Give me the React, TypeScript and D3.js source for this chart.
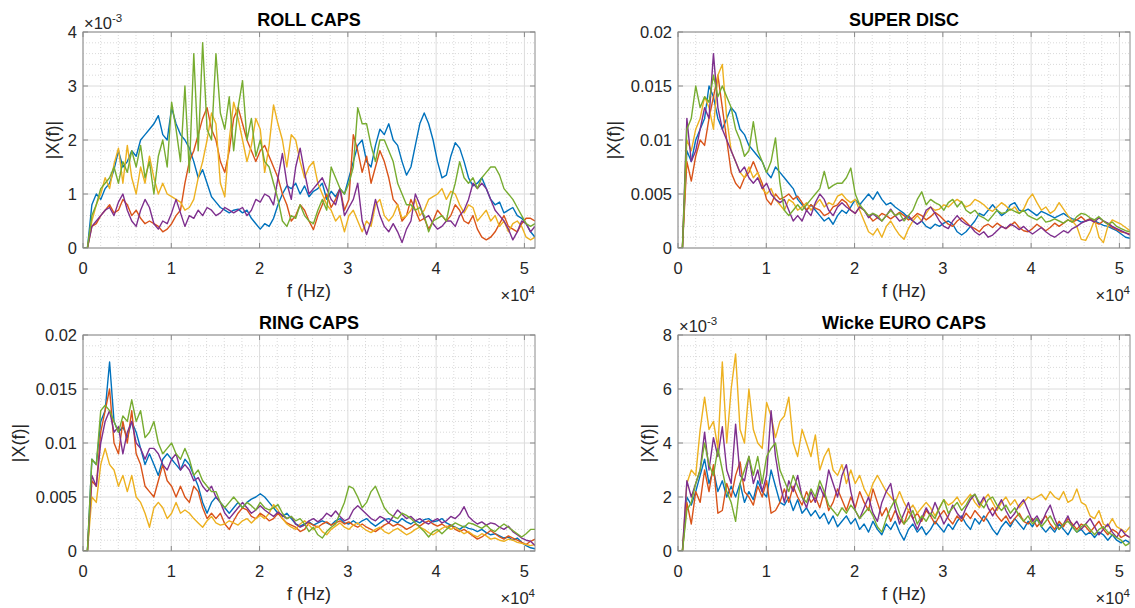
import React from 'react';
import * as d3 from 'd3';

// ---------- data (|X(f)| values, in units of the panel's display scale) ----------
const F_MAX = 51200;
const X_TICKS = [0, 10000, 20000, 30000, 40000, 50000];
const X_TICK_LABELS = ['0', '1', '2', '3', '4', '5'];
const SERIES_COLORS = ['#0072BD', '#D95319', '#EDB120', '#7E2F8E', '#77AC30'];
const PANEL_TITLES = ['ROLL CAPS', 'SUPER DISC', 'RING CAPS', 'Wicke EURO CAPS'];

// ROLL CAPS (x1e-3)
const ROLL_BLUE = [0, 0,
  0.8, 1.0, 0.9, 1.1, 1.2, 1.45, 1.8, 1.5, 1.6, 1.8,
  1.7, 2.0, 2.1, 2.2, 2.3, 2.45, 2.1, 2.0, 2.6, 2.3,
  2.1, 2.0, 1.85, 1.6, 1.3, 1.45, 1.2, 0.95, 0.85, 0.75,
  0.7, 0.65, 0.7, 0.72, 0.65, 0.7, 0.55, 0.45, 0.35, 0.45,
  0.4, 0.55, 0.8, 1.0, 1.15, 1.1, 1.2, 1.0, 1.15, 0.95,
  1.05, 1.1, 1.2, 0.9, 1.05, 0.95, 1.1, 1.0, 1.3, 1.6,
  1.9, 2.0, 1.6, 1.5, 1.9, 2.2, 2.1, 2.3, 2.0, 1.9,
  1.6, 1.35, 1.5, 1.9, 2.3, 2.5, 2.3, 2.0, 1.6, 1.3,
  1.35, 1.7, 1.95, 1.85, 1.6, 1.3, 1.15, 1.2, 1.3, 1.1,
  0.9, 0.8, 0.85, 0.65, 0.7, 0.75, 0.6, 0.55, 0.45, 0.3,
  0.2];
const ROLL_ORANGE = [0, 0,
  0.4, 0.45, 0.6, 0.7, 0.8, 0.65, 0.7, 0.9, 0.8, 0.6,
  0.7, 0.55, 0.45, 0.5, 0.45, 0.4, 0.3, 0.35, 0.45, 0.6,
  0.7, 1.2, 1.6, 1.8, 2.1, 2.4, 2.6, 2.2, 2.0, 1.6,
  1.4, 1.8, 2.4, 2.6, 2.3, 2.0, 1.8, 1.6, 1.8, 1.9,
  1.7, 1.5, 1.3, 1.0, 0.8, 0.5, 0.6, 0.8, 0.7, 0.5,
  0.34, 0.6, 0.8, 1.0, 0.75, 0.9, 1.1, 0.7, 0.9, 2.1,
  1.8, 1.4, 1.7, 1.2, 1.5, 1.8, 1.6, 1.3, 0.9, 0.8,
  0.5, 0.6, 0.9, 0.7, 0.5, 0.55, 0.35, 0.5, 0.7, 0.6,
  0.5, 0.6, 0.8, 0.7, 0.5, 0.45, 0.6, 0.35, 0.2, 0.15,
  0.2, 0.3, 0.45, 0.6, 0.4, 0.35, 0.3, 0.45, 0.55, 0.55,
  0.5];
const ROLL_YELLOW = [0, 0,
  0.5, 0.8, 1.0, 1.3, 1.1, 1.55, 1.85, 1.2, 1.9, 1.3,
  1.0, 1.5, 1.2, 1.7, 1.3, 1.0, 1.2, 1.0, 0.95, 0.9,
  0.85, 0.7, 0.75, 0.9, 1.3, 1.6, 2.0, 2.5, 2.3, 1.2,
  0.95, 2.0, 2.7, 2.4, 2.0, 1.6, 1.9, 2.4, 2.2, 1.4,
  1.9, 2.65, 2.3, 2.0, 1.5, 2.1, 2.0, 1.6, 1.3, 1.5,
  1.6, 1.2, 1.0, 0.8, 0.7, 0.5, 0.6, 0.3, 0.6, 0.7,
  0.5, 0.3, 0.5, 0.4, 0.8, 0.9, 0.6, 0.5, 0.6, 0.8,
  0.55, 0.6, 0.7, 0.9, 0.6, 0.7, 0.9, 0.95, 1.0, 1.1,
  0.9, 1.05, 1.0, 0.8, 0.65, 0.8, 0.75, 0.5, 0.6, 0.7,
  0.5, 0.6, 0.4, 0.5, 0.3, 0.45, 0.5, 0.4, 0.2, 0.15,
  0.2];
const ROLL_PURPLE = [0, 0,
  0.4, 0.5, 0.6, 0.7, 0.75, 0.6, 0.85, 1.0, 0.7, 0.5,
  0.4, 0.7, 0.9, 0.75, 0.45, 0.35, 0.5, 0.45, 0.65, 0.9,
  0.65, 0.4, 0.6, 0.55, 0.7, 0.6, 0.75, 0.7, 0.6, 0.65,
  0.75, 0.7, 0.65, 0.7, 0.75, 0.6, 0.7, 0.9, 0.85, 1.0,
  0.95, 0.8, 1.3, 1.75, 1.2, 0.9, 1.5, 1.85, 1.4, 1.0,
  1.1, 1.2, 1.3, 1.1, 0.9, 0.8, 1.1, 0.6, 0.75, 0.9,
  1.2, 0.5, 0.25, 0.5, 0.9, 0.6, 0.4, 0.3, 0.45, 0.3,
  0.1, 0.35, 0.5, 1.0, 0.8, 0.55, 0.6, 0.45, 0.35, 0.4,
  0.5, 0.5, 0.4, 0.6, 0.7, 0.9, 1.2, 1.1, 1.2, 1.1,
  0.9, 0.7, 0.6, 0.5, 0.35, 0.15, 0.3, 0.5, 0.45, 0.3,
  0.4];
const ROLL_GREEN = [0, 0,
  0.6, 0.8, 1.1, 1.2, 1.3, 1.5, 1.2, 1.6, 1.4, 1.8,
  1.5, 1.9, 1.3, 1.6, 1.0, 1.7, 2.0, 1.5, 2.7, 2.2,
  1.6, 3.0, 1.4, 3.6, 1.8, 3.8, 2.2, 2.0, 3.6, 2.5,
  2.2, 2.8, 1.8, 2.6, 3.1, 2.0, 2.4, 1.7, 2.0, 1.6,
  1.5, 1.2, 0.9, 0.5, 0.4, 0.6, 0.55, 0.8, 0.6, 0.5,
  0.45, 0.7, 0.9, 0.7, 1.5, 1.3, 1.1, 1.0, 1.2, 1.5,
  2.6, 2.3, 2.3, 1.9, 1.6, 2.0, 2.0, 1.8, 1.6, 1.2,
  1.0, 0.8, 0.8, 0.7, 0.75, 0.6, 0.3, 0.5, 0.55, 0.6,
  0.5, 0.9, 1.2, 1.6, 1.3, 1.2, 1.3, 1.1, 1.3, 1.4,
  1.5, 1.5, 1.35, 1.1, 1.0, 0.9, 0.75, 0.6, 0.45, 0.4,
  0.45];

// SUPER DISC (x1e-3)
const DISC_BLUE = [0, 0,
  9, 8, 10, 11, 12, 15, 14, 12, 11, 12,
  13, 12.5, 11, 10.5, 9.5, 9, 8.5, 8, 7, 6.5,
  7.5, 7, 6.5, 6, 5.5, 4.5, 4, 3.5, 4, 3.5,
  3, 2.5, 2.8, 2.2, 3, 3.5, 3.2, 3.8, 4.5, 4,
  4.5, 5, 4.5, 5.2, 4.5, 4, 4.2, 3.8, 3.5, 3.2,
  2.8, 2.5, 2.2, 2.5, 2.0, 1.8, 2.2, 2.0, 2.3, 2.5,
  2.2, 1.5, 1.2, 1.5, 2.0, 2.5, 3.2, 3.0, 3.5, 4.0,
  3.5, 3.0, 3.3, 4.0, 4.2, 3.5, 3.4, 3.6, 3.3, 3.0,
  3.4, 3.2, 3.0, 2.8, 3.0, 3.2, 2.9, 2.7, 2.6, 2.4,
  2.5, 2.7, 2.5, 2.3, 2.1, 2.0, 1.8, 1.6, 1.3, 1.0,
  0.9];
const DISC_ORANGE = [0, 0,
  8, 6.2, 8.5, 10, 9.5, 12, 14, 16, 13, 10,
  7, 6, 5.5, 6.5, 7, 8, 7, 6, 4.5, 4,
  5, 4.5, 4.7, 5, 4.5, 4.8, 4.2, 3.5, 4, 3.7,
  3.5, 3, 3.2, 3.8, 4, 4.5, 4.2, 3.5, 3.2, 3.8,
  3.5, 3.0, 2.5, 2.8, 3.2, 3.0, 2.7, 3.0, 3.3, 3.0,
  2.6, 2.8, 3.2, 3.0, 2.6, 2.9, 3.3, 3.0, 2.6, 2.2,
  2.0, 2.5, 2.8, 2.4, 2.0, 1.8, 1.5, 2.0, 2.2, 1.9,
  2.3, 2.0, 1.8, 2.1, 2.4, 1.9, 1.6, 1.5, 1.8, 2.2,
  1.9, 1.6, 1.9, 2.3, 2.0, 2.3, 2.6, 2.4, 2.6, 2.9,
  2.5, 2.7, 2.4, 2.2, 2.5, 2.2, 1.9, 1.7, 1.5, 1.4,
  1.3];
const DISC_YELLOW = [0, 0,
  10, 9, 11, 12, 14, 13, 11, 16, 17, 12,
  9, 8, 7, 6.5, 7.5, 6.5, 7, 5.5, 5, 5.5,
  4.5, 4, 3.5, 4.5, 4.2, 3.5, 3.8, 4.2, 3.5, 4,
  4.5, 3.8, 4.2, 4, 4.8, 5, 4.5, 4.2, 4.5, 3.5,
  2.5, 1.5, 1.2, 1.8, 1.0, 2.0, 2.5, 1.8, 1.2, 0.8,
  1.8, 2.5, 3.0, 2.5, 3.2, 3.8, 3.5, 3.6, 4.0, 3.8,
  4.2, 4.5, 4.2, 3.8, 4.0, 4.5, 4.3, 4.0, 3.6, 3.4,
  3.8, 4.2, 3.9, 3.5, 3.8, 3.2, 3.6, 4.5, 5.0, 4.2,
  3.5, 3.8, 3.2, 3.5, 4.2, 3.6, 3.0, 2.5, 2.0, 0.8,
  0.7, 1.5, 2.6, 1.0, 0.5, 2.0, 2.6, 2.4, 2.2, 1.9,
  1.6];
const DISC_PURPLE = [0, 0,
  12, 8, 9, 11, 13, 12, 18, 13, 11, 10,
  9, 8, 7, 7.5, 6.5, 6, 6.5, 5.5, 6, 5,
  4.5, 4.2, 4.5, 3.5, 2.5, 3, 2.5, 3.5, 3.0, 4.2,
  5, 4.5, 3.5, 3, 3.8, 4.2, 3.8, 3.5, 3.2, 3.8,
  3.5, 2.8, 3.2, 2.8, 2.5, 3.0, 3.6, 3.0, 2.5, 2.7,
  3.0, 2.5, 2.2, 2.5, 3.5, 3.8, 3.2, 2.5, 2.0, 1.8,
  2.5, 3.0, 2.5, 2.2, 2.0, 1.5, 1.2, 1.5, 1.0, 1.2,
  1.6, 2.0, 1.8, 2.2, 2.0, 1.7, 2.0, 1.6, 1.3, 1.6,
  1.9, 1.5, 1.2, 1.0, 1.3, 1.6, 1.4, 1.8, 2.0, 2.3,
  2.5, 2.6, 2.4, 2.8, 2.5, 2.3, 2.0, 1.8, 1.6, 1.4,
  1.2];
const DISC_GREEN = [0, 0,
  11, 12, 15, 13, 14, 13.5, 16, 14, 15, 14,
  13, 11, 10, 8.5, 9, 11.7, 9, 8, 7, 8,
  10.2, 6, 3.5, 3, 3.5, 4, 3.5, 4, 4.5, 5,
  5.5, 7.1, 5.5, 5.8, 6, 6, 6.5, 7.4, 5, 4,
  3.5, 3, 3.2, 3, 2.5, 3, 3.5, 3, 3.2, 2.5,
  3, 3.5, 4.5, 5.2, 4, 4.5, 4.2, 4, 3.5, 4.2,
  4.5, 3.8, 4.3, 3.5, 3.2, 3.5, 3, 2.8, 2.5, 3,
  3.5, 3.2, 3.3, 3.6, 3.4, 3.2, 3.5, 3.0, 2.8, 2.6,
  2.9, 2.4, 2.5, 2.7, 2.5, 2.3, 2.6, 2.4, 2.9, 3.2,
  3.1, 2.8, 2.6, 2.9, 2.5, 2.2, 2.4, 2.0, 1.8, 1.6,
  1.5];

// RING CAPS (x1e-3)
const RING_BLUE = [0, 0,
  8.5, 8, 12, 13, 17.5, 12, 11, 11.5, 10.5, 12,
  11, 9.5, 8, 9, 8, 7, 8.5, 9, 8.5, 8,
  7.5, 8.5, 8, 7, 6, 4.5, 3.5, 4.5, 5, 4.5,
  4, 3.5, 4, 4.5, 4, 4.5, 4.8, 5, 5.3, 5,
  4.5, 4, 3.5, 3.2, 3.5, 3.0, 2.5, 2.3, 2.5, 2.7,
  2.4, 2.6, 2.8, 2.6, 2.4, 2.8, 3.0, 2.6, 2.5, 2.8,
  2.5, 2.8, 3.0, 2.6, 2.3, 2.6, 2.9, 3.0, 2.8, 2.6,
  3.0, 2.7, 2.5, 2.8, 2.6, 2.9, 3.0, 2.7, 2.8, 3.0,
  2.6, 2.4, 2.2, 2.0, 2.3, 2.1, 2.0, 1.8, 2.0, 1.7,
  1.5, 1.6, 1.4, 1.2, 1.3, 1.0, 1.2, 0.8, 0.5, 0.3,
  0.2];
const RING_ORANGE = [0, 0,
  6.5, 6, 11, 13, 15, 10, 9, 12, 10, 13,
  9, 8, 6, 5.5, 5, 6.5, 8, 6.5, 6, 5,
  6, 5, 4.5, 6, 5.5, 4, 3, 3.5, 3.0, 3.5,
  2.5, 2.0, 2.8, 3.5, 4.0, 3.8, 3.2, 3.0, 3.5, 3.2,
  2.8, 3.0, 3.5, 3.0, 2.6, 2.4, 2.2, 1.8, 2.0, 2.6,
  2.4, 2.2, 2.5, 2.7, 2.4, 2.6, 2.8, 2.5, 2.7, 2.4,
  2.2, 2.5, 2.2, 2.0, 1.8, 2.1, 2.4, 2.6, 2.3, 2.5,
  2.3, 2.0, 2.2, 2.5, 2.3, 2.6, 2.8, 2.5, 2.3, 2.5,
  2.2, 2.4, 2.0, 1.8, 2.0, 1.7, 1.4, 1.1, 1.3, 1.6,
  1.9, 1.6, 1.3, 1.1, 1.4, 1.2, 1.0, 0.8, 0.6, 0.9,
  1.1];
const RING_YELLOW = [0, 0,
  5, 4.5, 8, 9.5, 8, 7.5, 6, 7, 5.5, 7,
  5, 4.5, 3.5, 2.2, 4, 4.5, 4, 3.0, 3.5, 4.5,
  3.5, 3.8, 3.5, 3.0, 2.6, 2.2, 2.8, 3.2, 2.6, 2.4,
  2.5, 2.8, 2.6, 2.4, 2.8, 3.0, 2.6, 3.0, 3.3, 3.0,
  3.5, 4.3, 3.8, 3.0, 2.5, 2.2, 2.0, 2.5, 2.8, 2.4,
  2.0, 2.3, 1.8, 1.5, 2.0, 2.3, 2.6, 2.2, 2.0, 2.4,
  2.6, 2.2, 1.9, 1.7, 2.0, 2.2, 1.8, 1.6, 1.9, 2.1,
  1.8, 1.5, 1.7, 2.0, 2.2, 2.0, 1.7, 1.5, 1.8, 2.1,
  2.3, 2.0, 2.2, 1.9, 1.6, 1.8, 1.5, 1.3, 1.6, 1.4,
  1.1, 1.2, 1.0, 0.9, 1.1, 1.0, 0.8, 0.7, 0.6, 0.5,
  0.6];
const RING_PURPLE = [0, 0,
  7, 6, 10, 12, 13, 11, 11.5, 9, 11, 12,
  10, 9.5, 8.5, 9.5, 9.5, 9, 8, 7.5, 8.5, 9,
  7.5, 8, 7.5, 6.5, 6.8, 6, 5.5, 6, 5, 4.5,
  3.5, 3.0, 3.5, 4.0, 4.5, 4.0, 3.5, 3.8, 4.2, 3.8,
  3.5, 3.2, 3.6, 3.3, 3.0, 3.2, 2.5, 2.2, 2.4, 2.8,
  3.0, 2.7, 3.0, 3.5, 3.2, 3.7, 3.2, 2.8, 3.0, 3.8,
  4.2, 3.8, 3.4, 3.0, 2.8, 3.2, 3.0, 2.6, 3.2, 3.8,
  3.4, 3.0, 3.2, 2.8, 3.0, 2.7, 2.5, 2.8, 3.0, 2.6,
  2.8, 3.2, 3.0, 3.4, 4.1, 3.2, 2.8, 2.5, 2.7, 2.4,
  2.6, 2.5, 2.2, 2.0, 2.3, 1.8, 1.5, 1.2, 1.0, 0.9,
  0.5];
const RING_GREEN = [0, 0,
  8.5, 8, 13, 13.5, 13, 12, 11, 12.5, 12, 14,
  12, 13, 10.5, 11, 12, 10, 9, 9.5, 10, 9,
  8.5, 9.5, 8.5, 7, 7.5, 6.5, 6, 5.5, 5.5, 4.5,
  4, 4.5, 5, 4.5, 4, 4.5, 4.2, 3.8, 4.5, 4.0,
  3.8, 4.0, 4.3, 3.5, 3.0, 3.2, 2.8, 3.0, 2.5, 1.8,
  2.2, 1.5, 1.2, 1.8, 2.2, 2.5, 3.5, 4.5, 6.0, 5.8,
  5.0, 4.0, 4.5, 5.5, 6.0, 5.0, 4.0, 3.5, 3.2, 3.0,
  3.5, 3.3, 3.0, 2.6, 2.2, 1.8, 1.3, 1.8, 2.0, 1.6,
  2.0, 2.3, 2.6, 2.4, 2.2, 2.6, 2.5, 2.3, 2.1, 2.4,
  2.0, 1.8, 2.2, 2.5, 2.2, 1.9, 1.6, 1.3, 1.6, 2.0,
  2.0];

// Wicke EURO CAPS (x1e-3)
const EURO_BLUE = [0, 0,
  2.0, 1.7, 2.2, 2.8, 3.4, 2.5, 3.0, 2.2, 2.6, 2.0,
  2.4, 2.0, 2.5, 1.8, 2.2, 1.9, 2.6, 2.2, 2.0, 3.0,
  2.4, 1.8, 1.7, 2.0, 1.5, 1.9, 1.4, 1.6, 1.3, 1.5,
  1.2, 1.4, 1.0, 1.3, 0.9, 1.1, 1.3, 1.0, 1.2, 0.8,
  1.0, 0.7, 1.1, 0.8, 0.6, 1.0, 0.8, 1.1, 0.7, 0.4,
  0.8, 1.0, 0.7, 0.9, 0.6, 0.8, 1.1, 0.9, 0.7, 1.0,
  0.8, 1.1, 1.3, 1.0, 0.8, 1.2, 1.0, 1.3, 1.1, 0.8,
  0.6, 0.9, 1.1, 0.9, 1.2, 1.0, 0.8, 1.1, 0.9, 1.2,
  0.9, 0.7, 0.9, 0.7, 1.0, 0.8, 0.6, 0.9, 0.7, 0.8,
  0.6, 0.7, 0.5, 0.7, 0.6, 0.4, 0.6, 0.4, 0.3, 0.4,
  0.3];
const EURO_ORANGE = [0, 0,
  1.8, 1.0, 2.2, 1.8, 3.0, 2.2, 3.2, 1.4, 1.5, 2.5,
  2.0, 2.8, 3.3, 2.2, 2.0, 1.7, 2.4, 2.0, 2.6, 1.4,
  1.5, 1.8, 2.3, 1.8, 2.4, 2.0, 1.7, 2.2, 1.8, 2.0,
  1.6, 2.2, 1.5, 1.8, 2.3, 1.9, 1.5, 2.0, 1.6, 2.2,
  1.8, 1.5, 2.3, 1.8, 1.3, 1.6, 1.1, 1.5, 1.2, 1.0,
  1.5, 1.2, 1.4, 1.1, 1.5, 1.3, 1.0, 1.3, 1.5, 1.2,
  1.0, 1.3, 1.1, 1.4, 1.2, 1.5, 1.3, 1.1, 1.4, 1.6,
  1.3, 1.1, 1.3, 1.0, 1.2, 1.4, 1.1, 1.0, 1.2, 0.9,
  1.1, 1.3, 1.0, 0.8, 1.1, 0.9, 1.2, 1.0, 0.8, 1.0,
  0.9, 0.7, 0.9, 1.1, 0.8, 0.6, 0.8, 0.7, 0.5, 0.6,
  0.5];
const EURO_YELLOW = [0, 0,
  2.5, 3.0, 2.8, 4.5, 5.7, 4.5, 4.8, 3.8, 7.0, 4.0,
  6.0, 7.3, 4.5, 4.0, 6.0, 4.5, 4.0, 3.8, 5.5, 5.0,
  4.2, 4.8, 5.0, 5.7, 4.0, 3.5, 4.5, 4.0, 3.5, 4.3,
  3.0, 3.5, 3.8, 3.0, 2.8, 3.2, 2.5, 3.0, 2.5, 2.8,
  2.3, 2.0, 2.5, 2.8, 2.5, 2.2, 2.0, 1.8, 2.2, 1.8,
  1.5, 1.7, 1.4, 1.6, 1.8, 1.6, 1.3, 1.6, 1.9, 1.7,
  1.8, 2.0, 1.7, 1.9, 2.1, 1.8, 1.6, 1.9, 2.1, 1.8,
  1.5, 1.8, 2.0, 1.7, 1.9, 1.6, 1.8, 2.0, 1.9, 2.0,
  2.1, 1.9, 2.2, 2.0, 1.9, 2.2, 1.8, 1.9, 2.3, 1.8,
  1.7, 1.3, 1.2, 1.5, 1.0, 0.9, 1.2, 0.9, 0.8, 0.7,
  0.9];
const EURO_PURPLE = [0, 0,
  2.6, 2.0, 2.5, 3.0, 4.4, 3.0, 4.2, 3.5, 4.6, 3.0,
  2.5, 4.7, 2.8, 2.6, 3.5, 2.5, 3.0, 2.2, 2.8, 5.2,
  3.5, 2.5, 1.8, 2.6, 2.2, 2.8, 2.0, 1.6, 2.2, 1.8,
  2.4, 2.0, 3.0, 2.5, 2.0, 2.8, 3.2, 2.2, 1.5, 1.2,
  1.6, 2.0, 1.4, 1.1, 1.8, 2.2, 2.5, 1.6, 1.0, 1.4,
  1.8, 1.2, 0.8, 1.2, 1.6, 1.3, 1.8, 1.4, 1.0, 1.3,
  1.7, 1.4, 1.2, 1.6, 1.9, 2.1, 1.7, 2.0, 1.6, 1.3,
  1.6, 1.9, 1.5, 1.2, 1.4, 1.7, 1.9, 1.5, 1.1, 1.3,
  1.0, 1.4, 1.7, 1.2, 0.8, 1.0, 1.3, 0.9, 1.1, 0.8,
  1.0, 1.2, 0.9, 0.6, 0.8, 1.0, 0.7, 0.5, 0.8, 0.6,
  0.5];
const EURO_GREEN = [0, 0,
  1.5, 1.8, 2.5, 3.0, 4.0, 3.2, 2.8, 3.8, 3.0, 2.2,
  1.8, 1.1, 2.5, 3.0, 3.5, 2.8, 3.5, 2.5, 3.5, 3.8,
  4.0, 3.0, 2.6, 2.2, 2.8, 2.4, 2.0, 1.8, 2.3, 2.0,
  2.6, 2.2, 1.7, 1.5, 1.3, 1.6, 1.4, 1.7, 1.5, 1.2,
  1.4, 1.6, 1.3, 0.9, 0.7, 1.2, 1.6, 1.9, 1.4, 1.0,
  1.2, 1.5, 1.0, 1.3, 1.1, 1.4, 1.2, 1.6, 1.9, 1.4,
  1.6, 1.8, 1.5, 1.7, 2.0, 2.1, 1.8, 1.6, 1.9, 2.0,
  1.7, 1.5, 1.7, 1.4, 1.6, 1.3, 1.1, 1.3, 1.0, 1.2,
  0.9, 1.1, 1.3, 1.0, 0.8, 1.0, 1.1, 0.9, 0.7, 0.9,
  1.0, 0.8, 0.6, 0.8, 0.9, 0.7, 0.6, 0.5, 0.4, 0.2,
  0.3];

const Y_TICKS_MILLI4 = [0, 1, 2, 3, 4];
const Y_TICKS_MILLI8 = [0, 2, 4, 6, 8];
const Y_TICKS_020 = [0, 5, 10, 15, 20];
const Y_LABELS_020 = ['0', '0.005', '0.01', '0.015', '0.02'];

const PANELS = [
  { title: PANEL_TITLES[0], yMax: 4, yTicks: Y_TICKS_MILLI4, yLabels: Y_TICKS_MILLI4.map(String), exp: true,
    series: [ROLL_BLUE, ROLL_ORANGE, ROLL_YELLOW, ROLL_PURPLE, ROLL_GREEN] },
  { title: PANEL_TITLES[1], yMax: 20, yTicks: Y_TICKS_020, yLabels: Y_LABELS_020, exp: false,
    series: [DISC_BLUE, DISC_ORANGE, DISC_YELLOW, DISC_PURPLE, DISC_GREEN] },
  { title: PANEL_TITLES[2], yMax: 20, yTicks: Y_TICKS_020, yLabels: Y_LABELS_020, exp: false,
    series: [RING_BLUE, RING_ORANGE, RING_YELLOW, RING_PURPLE, RING_GREEN] },
  { title: PANEL_TITLES[3], yMax: 8, yTicks: Y_TICKS_MILLI8, yLabels: Y_TICKS_MILLI8.map(String), exp: true,
    series: [EURO_BLUE, EURO_ORANGE, EURO_YELLOW, EURO_PURPLE, EURO_GREEN] },
];

// ---------- layout ----------
const W = 1135, H = 608;
const PW = 452, PH = 216;
const POS = [[83, 32], [678, 32], [83, 335], [678, 335]];
const FONT = '"Liberation Sans", Arial, Helvetica, sans-serif';
const TICK_FS = 16.5;
const LABEL_FS = 18;

function Panel({ p, idx }: { p: any; idx: number }) {
  const [left, top] = POS[idx];
  const x = d3.scaleLinear().domain([0, F_MAX]).range([left, left + PW]);
  const y = d3.scaleLinear().domain([0, p.yMax]).range([top + PH, top]);
  const yStep = p.yTicks[1] - p.yTicks[0];
  const minorX = d3.range(2000, F_MAX, 2000).filter((v) => v % 10000 !== 0);
  const minorY: number[] = [];
  for (let k = 1; k * yStep / 5 < p.yMax - 1e-9; k++) {
    if (k % 5 !== 0) minorY.push(k * yStep / 5);
  }
  const clipId = `clip${idx}`;
  const widest = d3.max(p.yLabels as string[], (s) => s.length) as number;
  const yLabelX = left - 6 - widest * 8.4 - 16;
  const cx = left + PW / 2;
  const tl = 5;
  return (
    <g>
      <defs>
        <clipPath id={clipId}>
          <rect x={left} y={top} width={PW} height={PH} />
        </clipPath>
      </defs>
      <rect x={left} y={top} width={PW} height={PH} fill="#ffffff" />
      {minorX.map((v) => (
        <line key={'mx' + v} x1={x(v)} x2={x(v)} y1={top} y2={top + PH} stroke="#cfcfcf" strokeWidth={0.8} strokeDasharray="1,2" />
      ))}
      {minorY.map((v) => (
        <line key={'my' + v} x1={left} x2={left + PW} y1={y(v)} y2={y(v)} stroke="#cfcfcf" strokeWidth={0.8} strokeDasharray="1,2" />
      ))}
      {X_TICKS.map((v) => (
        <line key={'gx' + v} x1={x(v)} x2={x(v)} y1={top} y2={top + PH} stroke="#dcdcdc" strokeWidth={1} />
      ))}
      {p.yTicks.map((v: number) => (
        <line key={'gy' + v} x1={left} x2={left + PW} y1={y(v)} y2={y(v)} stroke="#dcdcdc" strokeWidth={1} />
      ))}
      <g clipPath={`url(#${clipId})`}>
        {p.series.map((arr: number[], si: number) => {
          const n = arr.length;
          const line = d3.line<number>()
            .x((_, i) => x((i * F_MAX) / (n - 1)))
            .y((d) => y(d));
          return <path key={si} d={line(arr) || ''} fill="none" stroke={SERIES_COLORS[si]} strokeWidth={1.4} strokeLinejoin="round" />;
        })}
      </g>
      <rect x={left} y={top} width={PW} height={PH} fill="none" stroke="#8a8a8a" strokeWidth={1} />
      {X_TICKS.map((v) => (
        <g key={'tx' + v}>
          <line x1={x(v)} x2={x(v)} y1={top + PH} y2={top + PH - tl} stroke="#8a8a8a" />
          <line x1={x(v)} x2={x(v)} y1={top} y2={top + tl} stroke="#8a8a8a" />
        </g>
      ))}
      {p.yTicks.map((v: number) => (
        <g key={'ty' + v}>
          <line x1={left} x2={left + tl} y1={y(v)} y2={y(v)} stroke="#8a8a8a" />
          <line x1={left + PW} x2={left + PW - tl} y1={y(v)} y2={y(v)} stroke="#8a8a8a" />
        </g>
      ))}
      {X_TICKS.map((v, i) => (
        <text key={'lx' + v} x={x(v)} y={top + PH + 26} textAnchor="middle" fontSize={TICK_FS} fill="#262626">{X_TICK_LABELS[i]}</text>
      ))}
      {p.yTicks.map((v: number, i: number) => (
        <text key={'ly' + v} x={left - 6} y={y(v) + 6} textAnchor="end" fontSize={TICK_FS} fill="#262626">{p.yLabels[i]}</text>
      ))}
      <text x={left + PW} y={top + PH + 53} textAnchor="end" fontSize={TICK_FS} fill="#262626">
        ×10<tspan fontSize={11.5} dy={-7}>4</tspan>
      </text>
      {p.exp && (
        <text x={left + 1} y={top - 3} textAnchor="start" fontSize={TICK_FS} fill="#262626">
          ×10<tspan fontSize={11.5} dy={-7}>-3</tspan>
        </text>
      )}
      <text x={cx} y={top + PH + 49} textAnchor="middle" fontSize={LABEL_FS} fill="#262626">f (Hz)</text>
      <text transform={`translate(${yLabelX},${top + PH / 2}) rotate(-90)`} textAnchor="middle" dy={6} fontSize={LABEL_FS} fill="#262626">|X(f)|</text>
      <text x={cx} y={top - 6} textAnchor="middle" fontSize={LABEL_FS} fontWeight="bold" fill="#000">{p.title}</text>
    </g>
  );
}

export default function App() {
  React.useEffect(() => {
    document.body.style.margin = '0';
  }, []);
  return (
    <svg width={W} height={H} viewBox={`0 0 ${W} ${H}`} fontFamily={FONT}
      style={{ display: 'block', position: 'absolute', left: 0, top: 0, background: '#fff' }}>
      <rect x={0} y={0} width={W} height={H} fill="#ffffff" />
      {PANELS.map((p, i) => (
        <Panel key={i} p={p} idx={i} />
      ))}
    </svg>
  );
}
